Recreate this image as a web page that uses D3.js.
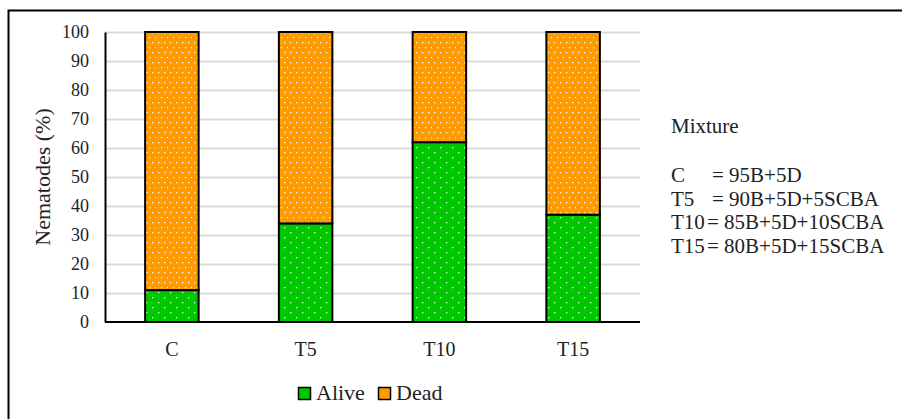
<!DOCTYPE html>
<html>
<head>
<meta charset="utf-8">
<script src="https://cdn.jsdelivr.net/npm/d3@7"></script>
<style>
  html, body { margin: 0; padding: 0; background: #fff; }
  svg { display: block; }
  text { font-family: "Liberation Serif", "Times New Roman", serif; fill: #222; }
</style>
</head>
<body>
<svg id="chart" width="902" height="419"></svg>
<script>
// Stacked percentages of nematodes per mixture
const categories = ["C", "T5", "T10", "T15"];
const alive = [11, 34, 62, 37];
const dead = [89, 66, 38, 63];
const seriesNames = ["Alive", "Dead"];
const seriesColors = ["#00C800", "#FF9A00"];
const yTicks = [0, 10, 20, 30, 40, 50, 60, 70, 80, 90, 100];
const mixtureLines = [
  ["C", "= 95B+5D"],
  ["T5", "= 90B+5D+5SCBA"],
  ["T10", "= 85B+5D+10SCBA"],
  ["T15", "= 80B+5D+15SCBA"]
];

const svg = d3.select("#chart");
const W = 902, H = 419;
const m = { left: 105, right: 640, top: 32, bottom: 322 };
const serif = "'Liberation Serif', 'Times New Roman', serif";

// Outer frame (top and left edges visible)
svg.append("path")
  .attr("d", `M8.5,${H} L8.5,10.5 L${W},10.5`)
  .attr("fill", "none").attr("stroke", "#000").attr("stroke-width", 2);

// Dotted fill patterns
const defs = svg.append("defs");
seriesColors.forEach((c, i) => {
  const p = defs.append("pattern")
    .attr("id", "pat" + i)
    .attr("patternUnits", "userSpaceOnUse")
    .attr("width", 12).attr("height", 10);
  p.append("rect").attr("width", 12).attr("height", 10).attr("fill", c);
  const pts = i === 0 ? [[2, 2], [8, 7]] : [[2, 2], [8, 2], [5, 7], [11, 7]];
  pts.forEach(([x, y]) => p.append("rect")
    .attr("x", x).attr("y", y).attr("width", 1.3).attr("height", 1.3)
    .attr("fill", "#fff").attr("opacity", 0.9));
});

const x = d3.scaleBand().domain(categories).range([m.left, m.right]).paddingInner(0.6).paddingOuter(0.3);
const y = d3.scaleLinear().domain([0, 100]).range([m.bottom, m.top]);

// Gridlines
svg.append("g").selectAll("line").data(yTicks.filter(t => t > 0)).join("line")
  .attr("x1", m.left).attr("x2", m.right)
  .attr("y1", d => y(d) + 0.5).attr("y2", d => y(d) + 0.5)
  .attr("stroke", "#d9d9d9").attr("stroke-width", 2);

// Stacked bars
const rows = categories.map((c, i) => ({ cat: c, Alive: alive[i], Dead: dead[i] }));
const stacked = d3.stack().keys(seriesNames)(rows);
svg.append("g").selectAll("g").data(stacked).join("g")
  .attr("fill", (d, i) => `url(#pat${i})`)
  .selectAll("rect").data(d => d).join("rect")
  .attr("x", d => x(d.data.cat))
  .attr("width", x.bandwidth())
  .attr("y", d => y(d[1]))
  .attr("height", d => y(d[0]) - y(d[1]))
  .attr("stroke", "#000").attr("stroke-width", 2);

// Y axis
const yAxis = d3.axisLeft(y).tickValues(yTicks).tickSize(0).tickPadding(16);
const gy = svg.append("g").attr("transform", `translate(${m.left},0)`).call(yAxis);
gy.select(".domain").attr("stroke", "#000").attr("stroke-width", 2);
gy.selectAll("text").style("font-size", "18px").style("font-family", serif).attr("fill", "#222");

// X axis
const xAxis = d3.axisBottom(x).tickSize(0).tickPadding(20);
const gx = svg.append("g").attr("transform", `translate(0,${m.bottom})`).call(xAxis);
gx.select(".domain").attr("d", `M${m.left},0H${m.right}`).attr("stroke", "#000").attr("stroke-width", 2);
gx.selectAll("text").style("font-size", "20px").style("font-family", serif).attr("fill", "#222");

// Y title
svg.append("text")
  .attr("transform", `translate(50,${(m.top + m.bottom) / 2}) rotate(-90)`)
  .attr("text-anchor", "middle")
  .style("font-size", "22px")
  .text("Nematodes (%)");

// Legend
const legend = svg.append("g").attr("transform", "translate(298,400)");
const legendX = [0, 80];
seriesNames.forEach((s, i) => {
  const g = legend.append("g").attr("transform", `translate(${legendX[i]},0)`);
  g.append("rect").attr("x", 0.5).attr("y", -12.5).attr("width", 12).attr("height", 12)
    .attr("fill", seriesColors[i]).attr("stroke", "#000").attr("stroke-width", 1.5);
  g.append("text").attr("x", 18).attr("y", 0).style("font-size", "22px").text(s);
});

// Mixture key
const key = svg.append("g").attr("transform", "translate(671,0)");
key.append("text").attr("x", 0).attr("y", 133).style("font-size", "21px").text("Mixture");
mixtureLines.forEach((r, i) => {
  const yy = 182 + i * 23.7;
  key.append("text").attr("x", 0).attr("y", yy).style("font-size", "21px").text(r[0]);
  key.append("text").attr("x", i < 2 ? 41 : 36).attr("y", yy).style("font-size", "21px").text(r[1]);
});
</script>
</body>
</html>
